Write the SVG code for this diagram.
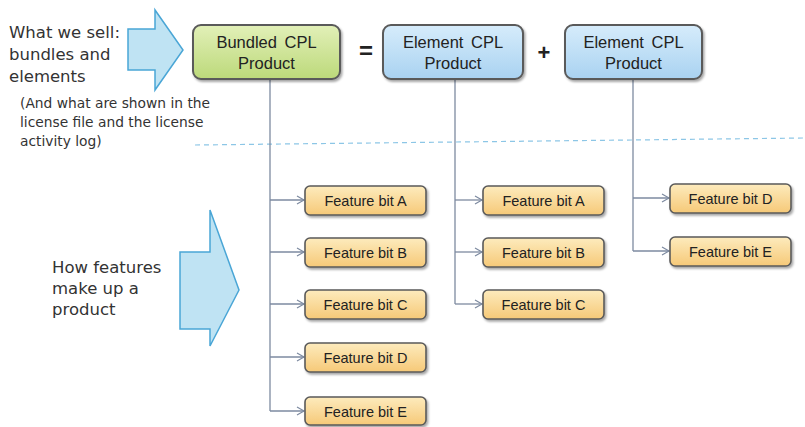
<svg xmlns="http://www.w3.org/2000/svg" width="805" height="427" viewBox="0 0 805 427">
<defs>
<linearGradient id="gGreen" x1="0" y1="0" x2="0" y2="1"><stop offset="0" stop-color="#e2f0b8"/><stop offset="1" stop-color="#bcd97a"/></linearGradient>
<linearGradient id="gBlue" x1="0" y1="0" x2="0" y2="1"><stop offset="0" stop-color="#d6ecfb"/><stop offset="1" stop-color="#a9d2f1"/></linearGradient>
<linearGradient id="gOrange" x1="0" y1="0" x2="0" y2="1"><stop offset="0" stop-color="#fdebbd"/><stop offset="1" stop-color="#f6c978"/></linearGradient>
<marker id="chev" markerWidth="10" markerHeight="10" refX="8" refY="5" orient="auto" markerUnits="userSpaceOnUse"><path d="M1,1 L8,5 L1,9" fill="none" stroke="#7d8aa0" stroke-width="1.2"/></marker>
<filter id="sh" x="-10%" y="-10%" width="130%" height="140%"><feDropShadow dx="1.5" dy="2" stdDeviation="1.2" flood-color="#000" flood-opacity="0.35"/></filter>
</defs>
<style>
.txt{font-family:"Liberation Sans",Arial,sans-serif;fill:#222;text-anchor:middle}
.ft{font-size:14.5px}
.tp{font-size:16.5px;word-spacing:3px}
.hand{font-family:"DejaVu Sans","Liberation Sans",sans-serif;fill:#333}
.h1{font-size:16.5px}
.h2{font-size:13.8px}
.conn{fill:none;stroke:#7d8aa0;stroke-width:1.3}
.top{stroke:#5a5a5a;stroke-width:2;filter:url(#sh)}
.feat{fill:url(#gOrange);stroke:#5a5a5a;stroke-width:1.6;filter:url(#sh)}
.barrow{fill:#bfe3f3;stroke:#4aa6d6;stroke-width:1.5}
</style>
<rect width="805" height="427" fill="#ffffff"/>

<!-- side texts and arrows -->
<g id="sell">
<text class="hand h1" x="9" y="38">What we sell:</text>
<text class="hand h1" x="9" y="60">bundles and</text>
<text class="hand h1" x="9" y="82">elements</text>
<text class="hand h2" x="20" y="108">(And what are shown in the</text>
<text class="hand h2" x="20" y="127">license file and the license</text>
<text class="hand h2" x="20" y="146">activity log)</text>
<path class="barrow" d="M128,29 L155,29 L155,10 L183,50 L155,90 L155,70 L128,70 Z"/>
</g>
<g id="how">
<text class="hand h1" x="52" y="273">How features</text>
<text class="hand h1" x="52" y="294">make up a</text>
<text class="hand h1" x="52" y="315">product</text>
<path class="barrow" d="M180,252 L210,252 L210,210 L239,290 L210,346 L210,329 L180,329 Z"/>
</g>

<line x1="195" y1="145" x2="805" y2="138" stroke="#8cc6e6" stroke-width="1.2" stroke-dasharray="5,4"/>

<!-- connectors -->
<g id="connectors">
<path class="conn" d="M270,80 V411"/>
<path class="conn" d="M270,200 H304" marker-end="url(#chev)"/>
<path class="conn" d="M270,252 H304" marker-end="url(#chev)"/>
<path class="conn" d="M270,304 H304" marker-end="url(#chev)"/>
<path class="conn" d="M270,357 H304" marker-end="url(#chev)"/>
<path class="conn" d="M270,411 H304" marker-end="url(#chev)"/>
<path class="conn" d="M455,80 V304"/>
<path class="conn" d="M455,200 H482" marker-end="url(#chev)"/>
<path class="conn" d="M455,252 H482" marker-end="url(#chev)"/>
<path class="conn" d="M455,304 H482" marker-end="url(#chev)"/>
<path class="conn" d="M633,80 V251"/>
<path class="conn" d="M633,198 H669" marker-end="url(#chev)"/>
<path class="conn" d="M633,251 H669" marker-end="url(#chev)"/>
</g>

<!-- top nodes -->
<g id="bundled">
<rect class="top" x="193" y="25" width="147" height="54" rx="8" fill="url(#gGreen)"/>
<text class="txt tp" x="266.5" y="48">Bundled CPL</text>
<text class="txt tp" x="266.5" y="69">Product</text>
</g>
<text class="txt" font-size="24" font-weight="bold" x="366" y="59">=</text>
<g id="element1">
<rect class="top" x="383" y="25" width="140" height="54" rx="8" fill="url(#gBlue)"/>
<text class="txt tp" x="453" y="48">Element CPL</text>
<text class="txt tp" x="453" y="69">Product</text>
</g>
<text class="txt" font-size="22" font-weight="bold" x="544" y="60">+</text>
<g id="element2">
<rect class="top" x="565" y="25" width="137" height="54" rx="8" fill="url(#gBlue)"/>
<text class="txt tp" x="633.5" y="48">Element CPL</text>
<text class="txt tp" x="633.5" y="69">Product</text>
</g>

<!-- features column 1 -->
<g id="f1a"><rect class="feat" x="305" y="186" width="121" height="29" rx="5"/><text class="txt ft" x="365.5" y="205.5">Feature bit A</text></g>
<g id="f1b"><rect class="feat" x="305" y="238" width="121" height="29" rx="5"/><text class="txt ft" x="365.5" y="257.5">Feature bit B</text></g>
<g id="f1c"><rect class="feat" x="305" y="290" width="121" height="29" rx="5"/><text class="txt ft" x="365.5" y="309.5">Feature bit C</text></g>
<g id="f1d"><rect class="feat" x="305" y="343" width="121" height="29" rx="5"/><text class="txt ft" x="365.5" y="362.5">Feature bit D</text></g>
<g id="f1e"><rect class="feat" x="305" y="397" width="121" height="28" rx="5"/><text class="txt ft" x="365.5" y="416.5">Feature bit E</text></g>
<!-- column 2 -->
<g id="f2a"><rect class="feat" x="483" y="186" width="121" height="29" rx="5"/><text class="txt ft" x="543.5" y="205.5">Feature bit A</text></g>
<g id="f2b"><rect class="feat" x="483" y="238" width="121" height="29" rx="5"/><text class="txt ft" x="543.5" y="257.5">Feature bit B</text></g>
<g id="f2c"><rect class="feat" x="483" y="290" width="121" height="29" rx="5"/><text class="txt ft" x="543.5" y="309.5">Feature bit C</text></g>
<!-- column 3 -->
<g id="f3d"><rect class="feat" x="670" y="184" width="121" height="29" rx="5"/><text class="txt ft" x="730.5" y="203.5">Feature bit D</text></g>
<g id="f3e"><rect class="feat" x="670" y="237" width="121" height="29" rx="5"/><text class="txt ft" x="730.5" y="256.5">Feature bit E</text></g>
</svg>
